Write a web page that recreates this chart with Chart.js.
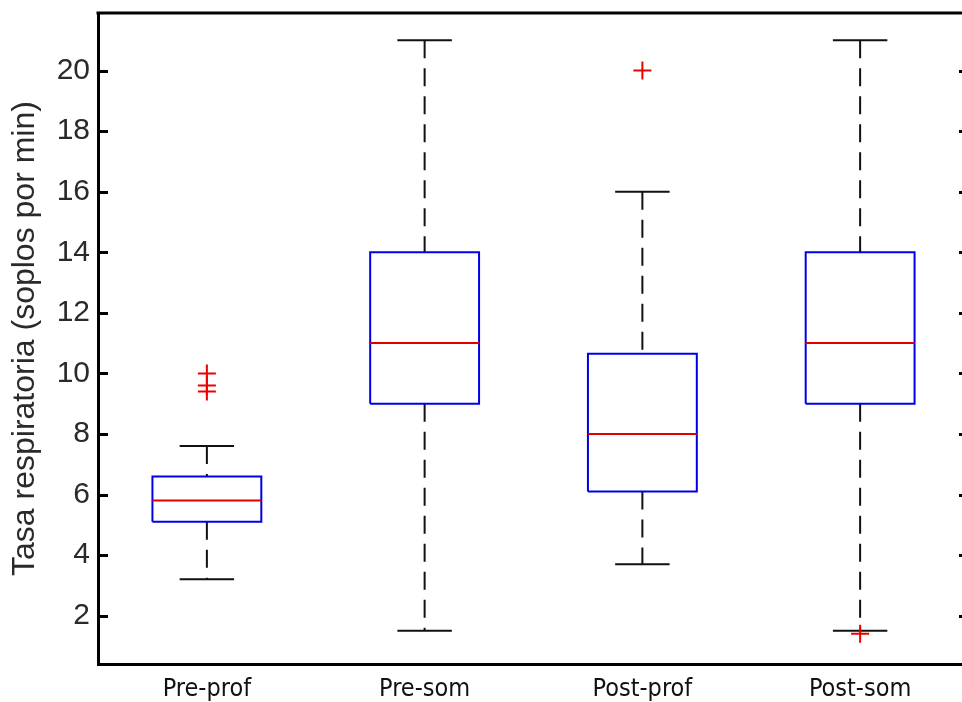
<!DOCTYPE html>
<html>
<head>
<meta charset="utf-8">
<script src="https://cdn.jsdelivr.net/npm/chart.js@4.4.0/dist/chart.umd.min.js"></script>
<style>
  html, body { margin: 0; padding: 0; background: #fff; overflow: hidden; }
  #wrap { width: 980px; height: 702px; }
</style>
</head>
<body>
<div id="wrap"><canvas id="box"></canvas></div>
<script>
const categories = ["Pre-prof", "Pre-som", "Post-prof", "Post-som"];
const lowWhisker = [3.2, 1.5, 3.7, 1.5];
const q1 = [5.1, 9, 6.1, 9];
const median = [5.8, 11, 8, 11];
const q3 = [6.6, 14, 10.65, 14];
const highWhisker = [7.6, 21, 16, 21];
const outliers = [[9.4, 9.6, 10], [], [20], [1.4]];
const yTicks = [2, 4, 6, 8, 10, 12, 14, 16, 18, 20];

const BOX_HALF = 0.25;
const CAP_HALF = 0.125;
const GAP = (x) => ({ x: x, y: null });

// build line segments for each group, null points break the path
const whiskers = [], caps = [], boxes = [], medians = [], flyers = [];
categories.forEach((name, k) => {
  const x = k + 1;
  whiskers.push({ x, y: highWhisker[k] }, { x, y: q3[k] }, GAP(x),
                { x, y: q1[k] }, { x, y: lowWhisker[k] }, GAP(x));
  caps.push({ x: x - CAP_HALF, y: highWhisker[k] }, { x: x + CAP_HALF, y: highWhisker[k] }, GAP(x),
            { x: x - CAP_HALF, y: lowWhisker[k] }, { x: x + CAP_HALF, y: lowWhisker[k] }, GAP(x));
  boxes.push({ x: x - BOX_HALF, y: q1[k] }, { x: x + BOX_HALF, y: q1[k] },
             { x: x + BOX_HALF, y: q3[k] }, { x: x - BOX_HALF, y: q3[k] },
             { x: x - BOX_HALF, y: q1[k] }, GAP(x));
  medians.push({ x: x - BOX_HALF, y: median[k] }, { x: x + BOX_HALF, y: median[k] }, GAP(x));
  outliers[k].forEach((v) => flyers.push({ x, y: v }));
});

const seg = (data, color, extra) => Object.assign({
  type: "line", data, borderColor: color, borderWidth: 2,
  pointRadius: 0, tension: 0, spanGaps: false, fill: false,
  borderCapStyle: "butt", borderJoinStyle: "miter",
}, extra);

// top spine, right spine and inward tick marks on both sides
const frame = {
  id: "frame",
  afterDraw(chart) {
    const { ctx, chartArea: a, scales } = chart;
    ctx.save();
    ctx.strokeStyle = "#000";
    ctx.lineWidth = 3;
    ctx.beginPath();
    ctx.moveTo(a.left - 1.5, a.top);
    ctx.lineTo(a.right + 1.5, a.top);
    ctx.moveTo(a.right, a.top);
    ctx.lineTo(a.right, a.bottom);
    yTicks.forEach((v) => {
      const y = Math.round(scales.y.getPixelForValue(v)) + 0.5;
      ctx.moveTo(a.left, y);
      ctx.lineTo(a.left + 10, y);
      ctx.moveTo(a.right - 10, y);
      ctx.lineTo(a.right, y);
    });
    ctx.stroke();
    ctx.restore();
  },
};

new Chart(document.getElementById("box"), {
  data: {
    datasets: [
      seg(flyers, "#ee0000", { type: "scatter", pointStyle: "cross", pointRadius: 9,
        pointBorderWidth: 2, pointBorderColor: "#ee0000", showLine: false, order: 0 }),
      seg(medians, "#e00000", { order: 1 }),
      seg(boxes, "#0000e6", { order: 2 }),
      seg(caps, "#111", { order: 3 }),
      seg(whiskers, "#111", { borderDash: [18, 10], order: 4 }),
    ],
  },
  options: {
    responsive: true,
    maintainAspectRatio: false,
    animation: false,
    layout: { padding: { top: 13, right: 11, left: 0, bottom: 0 } },
    plugins: { legend: { display: false }, tooltip: { enabled: false } },
    scales: {
      x: {
        type: "linear",
        min: 0.5,
        max: 4.5,
        afterBuildTicks: (s) => { s.ticks = categories.map((c, i) => ({ value: i + 1 })); },
        afterFit: (s) => { s.height = 38; s.paddingLeft = 0; s.paddingRight = 0; },
        grid: { display: false, drawTicks: false },
        border: { display: true, color: "#000", width: 3 },
        ticks: {
          callback: (v) => categories[v - 1],
          color: "#111",
          padding: 10,
          maxRotation: 0,
          font: { family: "'DejaVu Sans Condensed', 'DejaVu Sans'", size: 25 },
        },
      },
      y: {
        min: 0.405,
        max: 21.9,
        afterBuildTicks: (s) => { s.ticks = yTicks.map((v) => ({ value: v })); },
        afterFit: (s) => { s.width = 98; s.paddingTop = 0; s.paddingBottom = 0; },
        grid: { display: false, drawTicks: false },
        border: { display: true, color: "#000", width: 3 },
        ticks: {
          color: "#2a2a2a",
          padding: 8,
          font: { family: "'Liberation Sans', Arial", size: 30 },
        },
        title: {
          display: true,
          text: "Tasa respiratoria (soplos por min)",
          color: "#2a2a2a",
          padding: { top: 9, bottom: 0 },
          font: { family: "'Liberation Sans', Arial", size: 32, lineHeight: 1 },
        },
      },
    },
  },
  plugins: [frame],
});
</script>
</body>
</html>
